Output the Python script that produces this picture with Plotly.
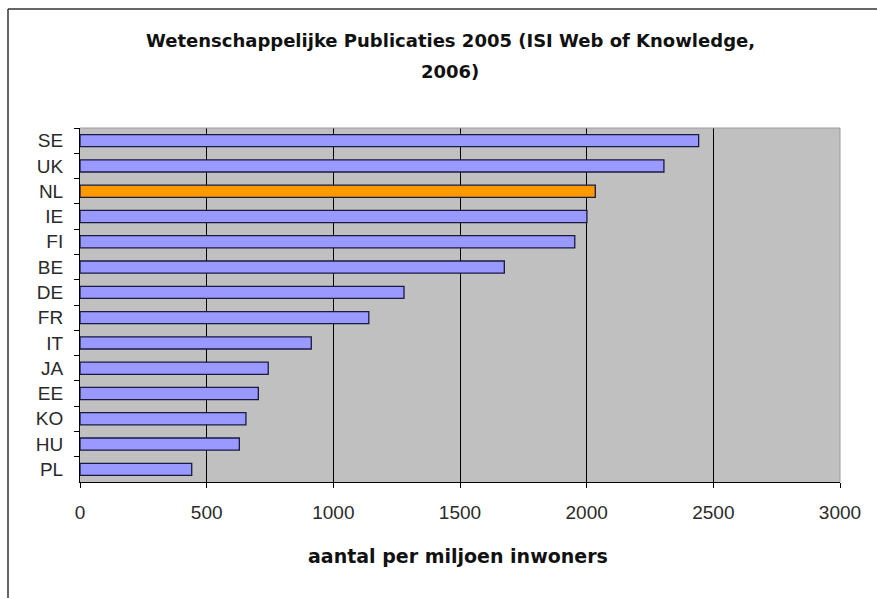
import plotly.graph_objects as go

countries = ["SE", "UK", "NL", "IE", "FI", "BE", "DE", "FR", "IT", "JA", "EE", "KO", "HU", "PL"]
values = [2442, 2305, 2034, 2001, 1953, 1675, 1279, 1140, 913, 743, 704, 655, 629, 441]
highlight = "NL"
x_ticks = [0, 500, 1000, 1500, 2000, 2500, 3000]

title_lines = ["Wetenschappelijke Publicaties 2005 (ISI Web of Knowledge,", "2006)"]
x_title = "aantal per miljoen inwoners"

colors = ["#FF9900" if c == highlight else "#9999FF" for c in countries]

W, H = 877, 598
L, R, T, B = 80, 37, 128, 116
pw, ph = W - L - R, H - T - B

def px_x(px):
    return (px - L) / pw

def px_y(py):
    return (H - B - py) / ph

bold_font = "DejaVu Sans, Verdana, sans-serif"
reg_font = "Liberation Sans, Arial, sans-serif"

fig = go.Figure(go.Bar(
    x=values, y=countries, orientation="h",
    marker=dict(color=colors, line=dict(color="#1a1a40", width=1.3)),
    width=0.48,
))

fig.update_layout(
    width=W, height=H,
    margin=dict(l=L, r=R, t=T, b=B),
    paper_bgcolor="white",
    plot_bgcolor="#C0C0C0",
    showlegend=False,
    font=dict(family=reg_font, color="#111111"),
    xaxis=dict(range=[0, 3000], tickvals=x_ticks, ticktext=[str(v) for v in x_ticks],
               showgrid=True, gridcolor="#000000", gridwidth=1,
               showline=True, linecolor="#000000", linewidth=1,
               ticks="outside", ticklen=5, tickcolor="#000000",
               ticklabelstandoff=8,
               tickfont=dict(size=19, color="#2a2a2a", family=reg_font),
               zeroline=False, fixedrange=True),
    yaxis=dict(categoryorder="array", categoryarray=countries, autorange="reversed",
               showline=True, linecolor="#000000", linewidth=1,
               ticks="outside", ticklen=5, tickcolor="#000000", tickson="boundaries",
               ticklabelstandoff=12,
               tickfont=dict(size=19, color="#2a2a2a", family=reg_font),
               showgrid=False, zeroline=False, fixedrange=True),
    bargap=0.52,
)

# title lines
for text, cy in zip(title_lines, [40, 71]):
    fig.add_annotation(xref="paper", yref="paper", x=px_x(450), y=px_y(cy),
                       text="<b>" + text + "</b>", showarrow=False,
                       xanchor="center", yanchor="middle",
                       font=dict(size=18, color="#111111", family=bold_font))

# x axis title
fig.add_annotation(xref="paper", yref="paper", x=px_x(458), y=px_y(556),
                   text="<b>" + x_title + "</b>", showarrow=False,
                   xanchor="center", yanchor="middle",
                   font=dict(size=19, color="#111111", family=bold_font))

# outer chart border (left and top edges visible)
fig.add_shape(type="line", xref="paper", yref="paper",
              x0=px_x(8), x1=px_x(W + 20), y0=px_y(9), y1=px_y(9),
              line=dict(color="#333333", width=1.5))
fig.add_shape(type="line", xref="paper", yref="paper",
              x0=px_x(8), x1=px_x(8), y0=px_y(9), y1=px_y(H + 20),
              line=dict(color="#333333", width=1.5))
# right / top edge of plot area (light)
fig.add_shape(type="line", xref="paper", yref="paper",
              x0=1, x1=1, y0=0, y1=1, line=dict(color="#9a9a9a", width=1))
fig.add_shape(type="line", xref="paper", yref="paper",
              x0=0, x1=1, y0=1, y1=1, line=dict(color="#9a9a9a", width=1))

fig.write_html("out.html")
